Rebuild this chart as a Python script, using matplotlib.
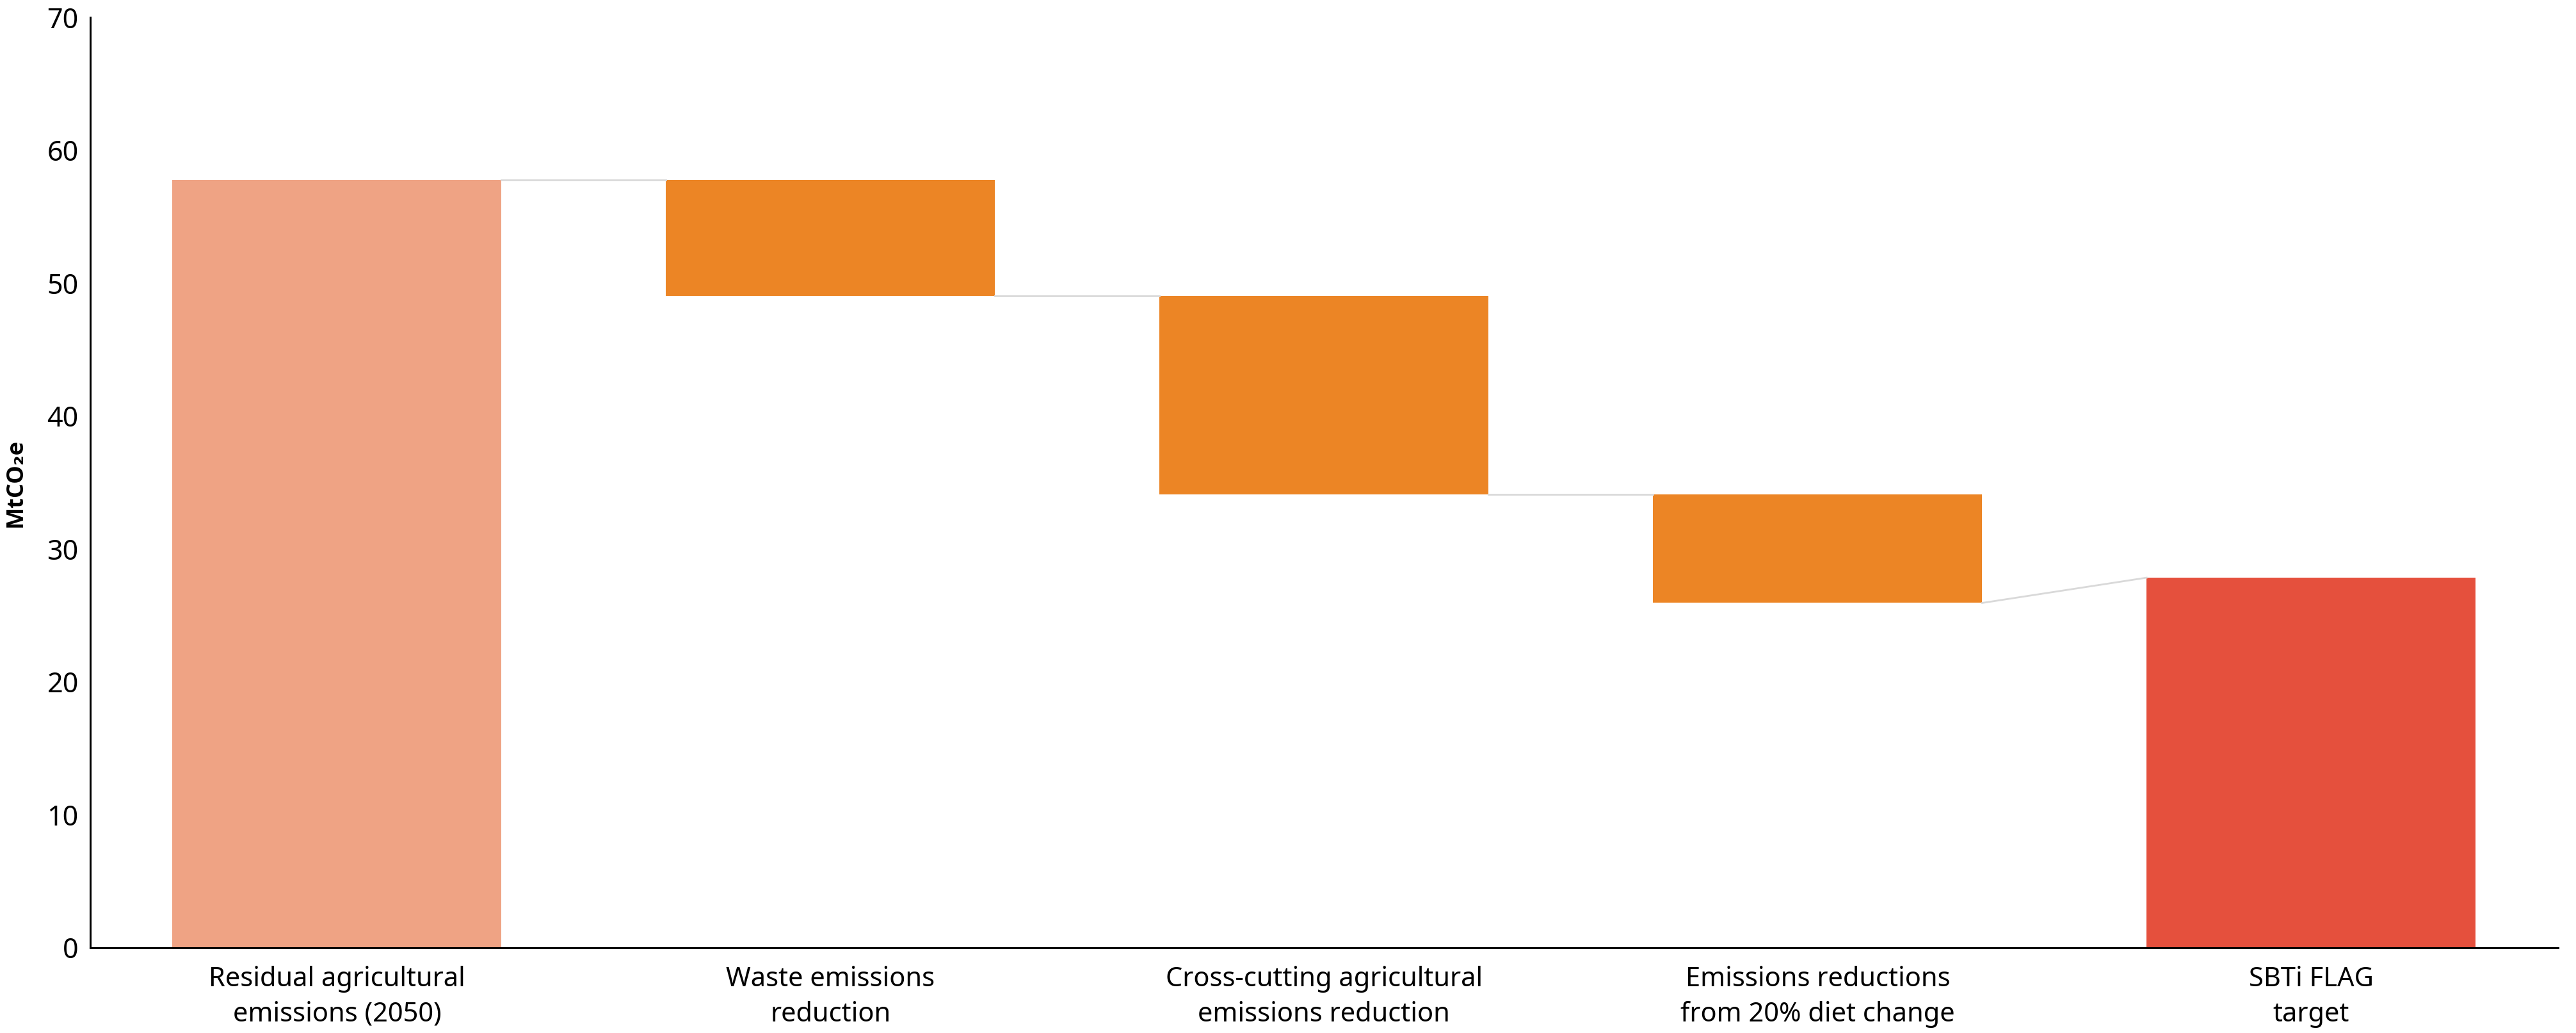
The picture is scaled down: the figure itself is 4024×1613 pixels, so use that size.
import matplotlib
matplotlib.use("Agg")
import matplotlib.pyplot as plt

categories = ["Residual agricultural\nemissions (2050)", "Waste emissions\nreduction",
              "Cross-cutting agricultural\nemissions reduction", "Emissions reductions\nfrom 20% diet change",
              "SBTi FLAG\ntarget"]
starts = [57.8, 49.05, 34.1, 25.95]   # residual total, then running levels
changes = [-8.75, -14.95, -8.15]
target = 27.85
yticks = [0, 10, 20, 30, 40, 50, 60, 70]

plt.rcParams['font.family'] = ['Noto Sans', 'DejaVu Sans']

fig = plt.figure(figsize=(40.24, 16.13), dpi=100)
ax = fig.add_axes([0.035, 0.0825, 0.958, 0.9005])

w = 0.667
c_start, c_step, c_end = "#EFA384", "#EC8525", "#E5503D"

ax.bar(0, starts[0], width=w, color=c_start)
levels = [starts[0]]
lvl = starts[0]
for i, ch in enumerate(changes):
    new = lvl + ch
    ax.bar(i + 1, -ch, bottom=new, width=w, color=c_step)
    levels.append(new)
    lvl = new
ax.bar(4, target, width=w, color=c_end)

gray = "#d9d9d9"
ax.plot([0 + w/2, 1 - w/2], [levels[0], levels[0]], color=gray, lw=2, zorder=1)
for i in range(1, 3):
    ax.plot([i + w/2, i + 1 - w/2], [levels[i], levels[i]], color=gray, lw=2, zorder=1)
ax.plot([3 + w/2, 4 - w/2], [levels[3], target], color=gray, lw=2, zorder=1)

ax.set_xlim(-0.5, 4.5)
ax.set_ylim(0, 70)
ax.set_yticks(yticks)
ax.set_xticks(range(5))
ax.set_xticklabels(categories, fontsize=30, linespacing=1.4)
ax.tick_params(axis='y', length=0, labelsize=31, pad=13)
ax.tick_params(axis='x', length=0, pad=20)
for s in ['top', 'right']:
    ax.spines[s].set_visible(False)
for s in ['left', 'bottom']:
    ax.spines[s].set_linewidth(2.2)
    ax.spines[s].set_color('black')

ax.set_ylabel("MtCO₂e", fontsize=26, fontweight='bold', labelpad=22,
              family=['Open Sans', 'DejaVu Sans'])

fig.savefig("out.png", dpi=100)
